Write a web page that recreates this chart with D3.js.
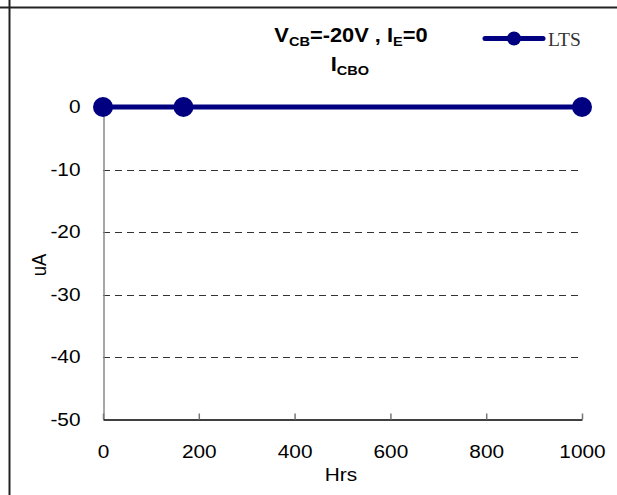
<!DOCTYPE html>
<html>
<head>
<meta charset="utf-8">
<script src="https://cdn.jsdelivr.net/npm/d3@7"></script>
<style>
  html, body { margin: 0; padding: 0; background: #fff; }
  svg { display: block; }
</style>
</head>
<body>
<script>
// I_CBO leakage current vs. stress time
const hours = [0, 168, 1000];
const currentUA = [0, 0, 0];
const seriesName = "LTS";
const xTicks = [0, 200, 400, 600, 800, 1000];
const yTicks = [0, -10, -20, -30, -40, -50];

const W = 617, H = 495;
const plot = { left: 103, right: 582, top: 107, bottom: 419.5 };
const SANS = "Liberation Sans, Arial, sans-serif";
const STRETCH = 1.12;   // sheet text is drawn slightly wide

const svg = d3.select("body").append("svg")
  .attr("width", W).attr("height", H);

// widen a text element horizontally around its own anchor point
function widen(sel, s) {
  sel.each(function () {
    const t = d3.select(this);
    const tx = +t.attr("x") || 0, ty = +t.attr("y") || 0;
    t.attr("transform", `translate(${tx},${ty}) scale(${s},1) translate(${-tx},${-ty})`);
  });
}

// frame lines of the surrounding sheet
svg.append("line").attr("x1", 0).attr("x2", W).attr("y1", 7.5).attr("y2", 7.5)
  .attr("stroke", "#222").attr("stroke-width", 2);
svg.append("line").attr("x1", 9.5).attr("x2", 9.5).attr("y1", 0).attr("y2", H)
  .attr("stroke", "#222").attr("stroke-width", 2);

const x = d3.scaleLinear().domain([0, 1000]).range([plot.left, plot.right]);
const y = d3.scaleLinear().domain([-50, 0]).range([plot.bottom, plot.top]);
const fmt = d => String(d);

// dashed gridlines
svg.append("g").selectAll("line")
  .data(yTicks.filter(v => v !== 0 && v !== -50))
  .join("line")
  .attr("x1", plot.left).attr("x2", plot.right)
  .attr("y1", d => Math.round(y(d)) + 0.5).attr("y2", d => Math.round(y(d)) + 0.5)
  .attr("stroke", "#333").attr("stroke-width", 1)
  .attr("stroke-dasharray", "7,5");

// y axis (no tick marks)
const yAxis = svg.append("g")
  .attr("transform", `translate(${plot.left + 0.5},0)`)
  .call(d3.axisLeft(y).tickValues(yTicks).tickSize(0).tickPadding(23).tickFormat(fmt));
yAxis.select(".domain").attr("stroke", "#888").attr("stroke-width", 1.5);
yAxis.selectAll("text")
  .attr("font-family", SANS).attr("font-size", 18.6).attr("fill", "#000")
  .call(widen, STRETCH);

// x axis with inward ticks
const xAxis = svg.append("g")
  .attr("transform", `translate(0,${plot.bottom})`)
  .call(d3.axisBottom(x).tickValues(xTicks).tickSizeInner(-6).tickSizeOuter(0)
    .tickPadding(25).tickFormat(fmt));
xAxis.select(".domain").attr("stroke", "#000").attr("stroke-width", 1.5);
xAxis.selectAll(".tick line").attr("stroke", "#777").attr("stroke-width", 1.5);
xAxis.selectAll("text")
  .attr("font-family", SANS).attr("font-size", 18.6).attr("fill", "#000")
  .call(widen, STRETCH);

// axis titles
svg.append("text")
  .attr("x", 341).attr("y", 481).attr("text-anchor", "middle")
  .attr("font-family", SANS).attr("font-size", 18.6)
  .text("Hrs")
  .call(widen, STRETCH);
svg.append("text")
  .attr("transform", `translate(46,265) rotate(-90) scale(1,${STRETCH})`)
  .attr("text-anchor", "middle")
  .attr("font-family", SANS).attr("font-size", 18.6)
  .text("uA");

// chart title with subscripts
const title = svg.append("g")
  .attr("font-family", SANS)
  .attr("font-weight", "bold").attr("font-size", 19.5).attr("fill", "#000");
const t1 = title.append("text").attr("x", 351).attr("y", 42).attr("text-anchor", "middle");
t1.append("tspan").text("V");
t1.append("tspan").attr("font-size", 13).attr("dy", 4).text("CB");
t1.append("tspan").attr("dy", -4).text("=-20V , I");
t1.append("tspan").attr("font-size", 13).attr("dy", 4).text("E");
t1.append("tspan").attr("dy", -4).text("=0");
const t2 = title.append("text").attr("x", 350).attr("y", 71).attr("text-anchor", "middle");
t2.append("tspan").text("I");
t2.append("tspan").attr("font-size", 13).attr("dy", 4).text("CBO");
title.selectAll("text").call(widen, STRETCH);

// data series
const navy = "#000080";
const line = d3.line().x((d, i) => x(hours[i])).y(d => y(d));
svg.append("path")
  .datum(currentUA)
  .attr("d", line)
  .attr("fill", "none").attr("stroke", navy).attr("stroke-width", 5);
svg.append("g").selectAll("circle")
  .data(currentUA)
  .join("circle")
  .attr("cx", (d, i) => x(hours[i])).attr("cy", d => y(d))
  .attr("r", 10).attr("fill", navy);

// legend
const lg = svg.append("g").attr("transform", "translate(485,38.5)");
lg.append("line").attr("x1", 0).attr("x2", 58).attr("y1", 0).attr("y2", 0)
  .attr("stroke", navy).attr("stroke-width", 5).attr("stroke-linecap", "round");
lg.append("circle").attr("cx", 29).attr("cy", 0).attr("r", 7).attr("fill", navy);
lg.append("text").attr("x", 63).attr("y", 7)
  .attr("font-family", "Liberation Serif, Times New Roman, serif")
  .attr("font-size", 19.5).attr("fill", "#333")
  .text(seriesName);
</script>
</body>
</html>
